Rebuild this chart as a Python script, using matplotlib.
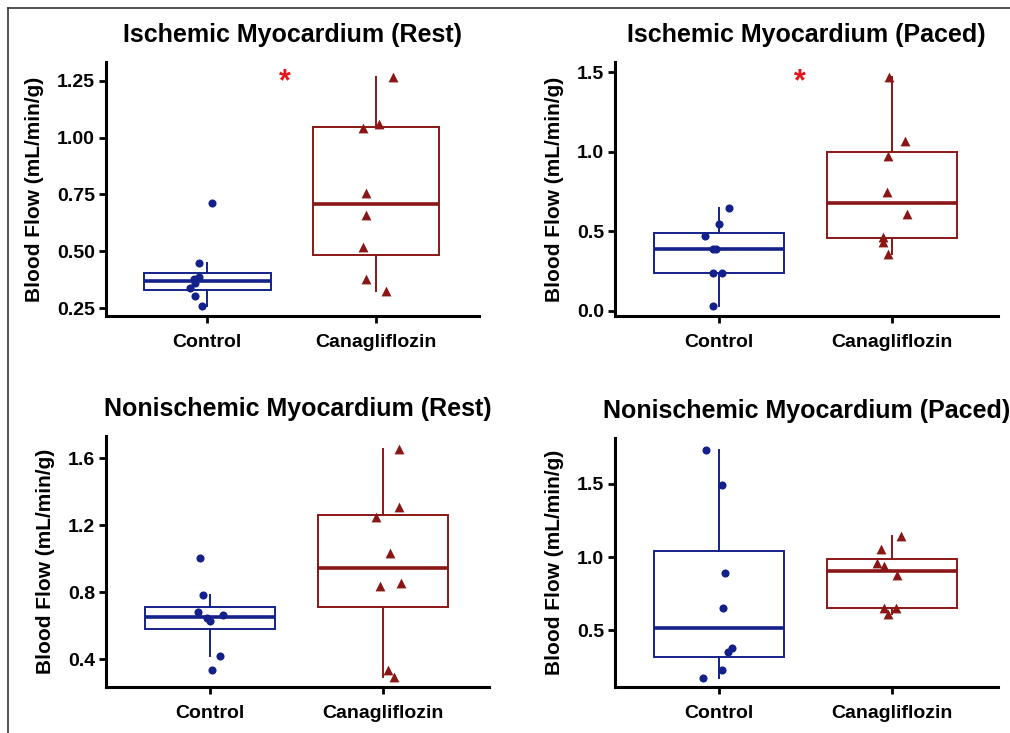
import numpy as np
import matplotlib
matplotlib.use('Agg')
from matplotlib import pyplot as plt
from matplotlib.lines import Line2D

plt.rcParams['font.family'] = ['Liberation Sans', 'DejaVu Sans']
plt.rcParams['font.weight'] = 'bold'

groups = ['Control', 'Canagliflozin']
titles = ['Ischemic Myocardium (Rest)', 'Ischemic Myocardium (Paced)',
          'Nonischemic Myocardium (Rest)', 'Nonischemic Myocardium (Paced)']

# blood flow values (mL/min/g)
isch_rest_ctrl = [0.714, 0.448, 0.389, 0.379, 0.362, 0.338, 0.305, 0.261]
isch_rest_cana = [1.268, 1.060, 1.044, 0.758, 0.660, 0.518, 0.377, 0.326]
isch_paced_ctrl = [0.644, 0.544, 0.470, 0.390, 0.390, 0.239, 0.239, 0.031]
isch_paced_cana = [1.473, 1.070, 0.974, 0.749, 0.607, 0.466, 0.434, 0.357]
nonisch_rest_ctrl = [1.001, 0.782, 0.684, 0.663, 0.645, 0.630, 0.420, 0.336]
nonisch_rest_cana = [1.656, 1.307, 1.248, 1.036, 0.839, 0.854, 0.336, 0.293]
nonisch_paced_ctrl = [1.734, 1.495, 0.889, 0.653, 0.380, 0.350, 0.230, 0.177]
nonisch_paced_cana = [1.142, 1.058, 0.962, 0.937, 0.876, 0.653, 0.653, 0.614]

# jittered x positions of the points
isch_rest_ctrl_x = [1.03, 0.95, 0.95, 0.92, 0.93, 0.90, 0.93, 0.97]
isch_rest_cana_x = [2.10, 2.02, 1.925, 1.94, 1.94, 1.92, 1.94, 2.06]
isch_paced_ctrl_x = [1.057, 1.0, 0.92, 0.968, 0.98, 0.968, 1.02, 0.966]
isch_paced_cana_x = [1.98, 2.075, 1.975, 1.967, 2.084, 1.948, 1.948, 1.977]
nonisch_rest_ctrl_x = [0.94, 0.958, 0.93, 1.076, 0.985, 1.0, 1.06, 1.013]
nonisch_rest_cana_x = [2.09, 2.09, 1.96, 2.04, 1.98, 2.10, 2.03, 2.06]
nonisch_paced_ctrl_x = [0.924, 1.016, 1.033, 1.025, 1.073, 1.052, 1.017, 0.91]
nonisch_paced_cana_x = [2.05, 1.933, 1.914, 1.954, 2.026, 1.955, 2.023, 1.975]

yticks = [[0.25, 0.50, 0.75, 1.00, 1.25], [0.0, 0.5, 1.0, 1.5],
          [0.4, 0.8, 1.2, 1.6], [0.5, 1.0, 1.5]]
ylims = [(0.216, 1.332), (-0.033, 1.565), (0.233, 1.733), (0.113, 1.814)]
tick_fmt = ['%.2f', '%.1f', '%.1f', '%.1f']
stars = [(1.46, 1.245), (1.465, 1.44), None, None]

panels = [
    (isch_rest_ctrl, isch_rest_ctrl_x, isch_rest_cana, isch_rest_cana_x),
    (isch_paced_ctrl, isch_paced_ctrl_x, isch_paced_cana, isch_paced_cana_x),
    (nonisch_rest_ctrl, nonisch_rest_ctrl_x, nonisch_rest_cana, nonisch_rest_cana_x),
    (nonisch_paced_ctrl, nonisch_paced_ctrl_x, nonisch_paced_cana, nonisch_paced_cana_x),
]

blue = '#14218a'
red = '#8b1616'

W, H = 1010, 733
fig = plt.figure(figsize=(W / 100, H / 100), dpi=100)

# axes boxes in pixels: left, right, top, bottom
boxes = [(106, 479, 62, 316), (615, 998, 62, 316),
         (106, 489, 436, 687), (615, 998, 438, 687)]

for i, (ctrl, ctrl_x, cana, cana_x) in enumerate(panels):
    l, r, t, b = boxes[i]
    ax = fig.add_axes([l / W, 1 - b / H, (r - l) / W, (b - t) / H])

    for vals, pos, col in [(ctrl, 1, blue), (cana, 2, red)]:
        ax.boxplot([vals], positions=[pos], widths=0.75, showfliers=False,
                   showcaps=False, patch_artist=True,
                   boxprops=dict(facecolor='none', edgecolor=col, linewidth=1.4),
                   whiskerprops=dict(color=col, linewidth=1.4),
                   medianprops=dict(color=col, linewidth=2.6))

    ax.scatter(ctrl_x, ctrl, s=34, color=blue, marker='o', zorder=3, linewidths=0)
    ax.scatter(cana_x, cana, s=50, color=red, marker='^', zorder=3, linewidths=0)

    if stars[i] is not None:
        ax.text(stars[i][0], stars[i][1], '*', color='#e3161b', fontsize=22,
                ha='center', va='center')

    ax.set_xlim(0.4, 2.61)
    ax.set_ylim(*ylims[i])
    ax.set_xticks([1, 2])
    ax.set_xticklabels(groups)
    ax.set_yticks(yticks[i])
    ax.set_yticklabels([tick_fmt[i] % v for v in yticks[i]])
    ax.tick_params(labelsize=14, width=2, length=5, pad=3)
    ax.tick_params(axis='x', pad=8)
    for side in ['top', 'right']:
        ax.spines[side].set_visible(False)
    for side in ['left', 'bottom']:
        ax.spines[side].set_linewidth(2.2)
    ax.set_ylabel('Blood Flow (mL/min/g)', fontsize=15, fontweight='bold', labelpad=9)
    ax.set_title(titles[i], fontsize=18, fontweight='bold', pad=14.5)

# frame lines at top and left of the figure
fig.add_artist(Line2D([8 / W, 1], [1 - 8 / H, 1 - 8 / H], color='#333333', linewidth=1.2))
fig.add_artist(Line2D([8 / W, 8 / W], [0, 1 - 8 / H], color='#333333', linewidth=1.2))

fig.savefig('out.png', dpi=100)
